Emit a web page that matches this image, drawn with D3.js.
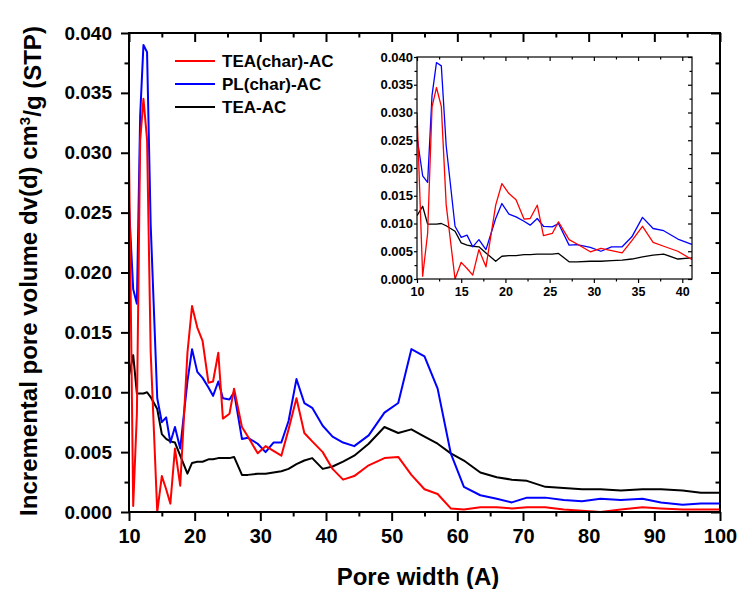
<!DOCTYPE html>
<html>
<head>
<meta charset="utf-8">
<script src="https://cdn.jsdelivr.net/npm/d3@7"></script>
<style>
  body { margin: 0; background: #fff; }
  svg text { font-family: "Liberation Sans", Arial, sans-serif; font-weight: bold; fill: #000; }
</style>
</head>
<body>
<div id="chart"></div>
<script>
// Pore width (A) and incremental pore volume
const poreWidth = [10, 10.64, 11.2, 11.7, 12.2, 12.75, 13.3, 14.3, 15, 15.66, 16.3, 17, 17.8, 18.9, 19.6, 20.4, 21.2, 22.1, 22.8, 23.6, 24.3, 25.3, 26,
    27.2, 28.1, 29.6, 30.8, 32, 33.2, 34.3, 35.5, 36.7, 37.9, 39.5, 41, 42.6, 44.3, 46.5, 48.9, 51, 53, 55, 57, 59, 61, 63.5, 66, 68.3,
    70.6, 73.4, 76.2, 79, 81.8, 84.9, 88.2, 91, 94.3, 97.1, 100];
const teaCharAC = [0.0300, 0.0005, 0.0082, 0.0310, 0.0345, 0.0311, 0.0134, 0.0000, 0.0030, 0.0019, 0.0007, 0.0053, 0.0022, 0.0133, 0.0172, 0.0154, 0.0143, 0.0108, 0.0109, 0.0133, 0.0078, 0.0082, 0.0103,
    0.0071, 0.0063, 0.0049, 0.0055, 0.0051, 0.0047, 0.0069, 0.0095, 0.0066, 0.0059, 0.0050, 0.0036, 0.0027, 0.0030, 0.0039, 0.0045, 0.0046, 0.0031, 0.0019, 0.0015, 0.0003, 0.0002, 0.0004, 0.0004, 0.0003,
    0.0004, 0.0004, 0.0002, 0.0001, 0.0000, 0.0002, 0.0004, 0.0003, 0.0002, 0.0002, 0.0002];
const plCharAC = [0.0256, 0.0186, 0.0174, 0.0331, 0.0390, 0.0384, 0.0240, 0.0095, 0.0075, 0.0079, 0.0058, 0.0071, 0.0053, 0.0109, 0.0136, 0.0117, 0.0112, 0.0104, 0.0097, 0.0109, 0.0095, 0.0094, 0.0100,
    0.0061, 0.0062, 0.0057, 0.0050, 0.0058, 0.0058, 0.0076, 0.0111, 0.0091, 0.0087, 0.0072, 0.0063, 0.0058, 0.0055, 0.0064, 0.0083, 0.0091, 0.0136, 0.0130, 0.0103, 0.0049, 0.0021, 0.0014, 0.0011, 0.0008,
    0.0012, 0.0012, 0.0010, 0.0009, 0.0011, 0.0010, 0.0011, 0.0008, 0.0006, 0.0007, 0.0007];
const teaAC = [0.0114, 0.0131, 0.0099, 0.0099, 0.0099, 0.0100, 0.0096, 0.0086, 0.0065, 0.0061, 0.0059, 0.0058, 0.0047, 0.0032, 0.0041, 0.0042, 0.0042, 0.0044, 0.0044, 0.0045, 0.0045, 0.0045, 0.0046,
    0.0031, 0.0031, 0.0032, 0.0032, 0.0033, 0.0034, 0.0036, 0.0040, 0.0043, 0.0045, 0.0036, 0.0038, 0.0042, 0.0047, 0.0057, 0.0071, 0.0066, 0.0069, 0.0063, 0.0057, 0.0049, 0.0043, 0.0033, 0.0029, 0.0027,
    0.0026, 0.0021, 0.0020, 0.0019, 0.0019, 0.0018, 0.0019, 0.0019, 0.0018, 0.0016, 0.0016];

const seriesNames = ["TEA(char)-AC", "PL(char)-AC", "TEA-AC"];
const seriesColors = ["#ff0000", "#0000ff", "#000000"];
const seriesValues = [teaCharAC, plCharAC, teaAC];

const xMainTicks = d3.range(10, 101, 10);
const xMainMinor = d3.range(15, 100, 10);
const yTicks = d3.range(0, 0.0401, 0.005);
const yMinor = d3.range(0.0025, 0.04, 0.005);
const xInsetTicks = d3.range(10, 41, 5);
const xInsetMinor = d3.range(12.5, 41, 5);

const width = 739, height = 589;
const svg = d3.select("#chart").append("svg")
    .attr("width", width)
    .attr("height", height);

const series = seriesValues.map((vals, i) => ({
    name: seriesNames[i],
    color: seriesColors[i],
    points: poreWidth.map((x, j) => ({ x: x, y: vals[j] }))
}));

// draws one framed panel (axes, ticks, lines)
function drawPanel(g, box, xDomain, opts) {
    const x = d3.scaleLinear().domain(xDomain).range([box.left, box.right]);
    const y = d3.scaleLinear().domain([0, 0.04]).range([box.bottom, box.top]);

    const clipId = "clip-" + opts.id;
    g.append("clipPath").attr("id", clipId)
        .append("rect")
        .attr("x", box.left).attr("y", box.top)
        .attr("width", box.right - box.left).attr("height", box.bottom - box.top);

    const line = d3.line().x(d => x(d.x)).y(d => y(d.y));
    g.append("g").attr("clip-path", `url(#${clipId})`)
        .selectAll("path")
        .data(series.slice().reverse())
        .enter()
        .append("path")
        .attr("d", d => line(d.points))
        .attr("fill", "none")
        .attr("stroke", d => d.color)
        .attr("stroke-width", opts.lineWidth)
        .attr("stroke-linejoin", "round");

    // bottom
    g.append("g").attr("transform", `translate(0,${box.bottom})`)
        .call(d3.axisBottom(x).tickValues(opts.xTicks).tickSize(opts.major).tickPadding(opts.xPad).tickFormat(d3.format("d")))
        .call(a => a.selectAll("text").style("font-size", opts.xFont + "px"));
    g.append("g").attr("transform", `translate(0,${box.bottom})`)
        .call(d3.axisBottom(x).tickValues(opts.xMinor).tickSize(opts.minor).tickFormat(""));
    // top (inward)
    g.append("g").attr("transform", `translate(0,${box.top})`)
        .call(d3.axisTop(x).tickValues(opts.xTicks).tickSize(-opts.major).tickFormat(""));
    g.append("g").attr("transform", `translate(0,${box.top})`)
        .call(d3.axisTop(x).tickValues(opts.xMinor).tickSize(-opts.minor).tickFormat(""));
    // left
    g.append("g").attr("transform", `translate(${box.left},0)`)
        .call(d3.axisLeft(y).tickValues(yTicks).tickSize(opts.yMajor).tickPadding(opts.yPad).tickFormat(d3.format(".3f")))
        .call(a => a.selectAll("text").style("font-size", opts.yFont + "px"));
    g.append("g").attr("transform", `translate(${box.left},0)`)
        .call(d3.axisLeft(y).tickValues(yMinor).tickSize(opts.minor).tickFormat(""));
    // right (inward)
    g.append("g").attr("transform", `translate(${box.right},0)`)
        .call(d3.axisRight(y).tickValues(yTicks).tickSize(-opts.major).tickFormat(""));
    g.append("g").attr("transform", `translate(${box.right},0)`)
        .call(d3.axisRight(y).tickValues(yMinor).tickSize(-opts.minor).tickFormat(""));

    g.selectAll(".domain").remove();
    g.selectAll(".tick line").attr("stroke", "#000").attr("stroke-width", opts.axisWidth);

    g.append("rect")
        .attr("x", box.left).attr("y", box.top)
        .attr("width", box.right - box.left).attr("height", box.bottom - box.top)
        .attr("fill", "none")
        .attr("stroke", "#000")
        .attr("stroke-width", opts.axisWidth);
    return { x, y };
}

// main plot
const mainBox = { left: 129, right: 720, top: 33, bottom: 512 };
drawPanel(svg.append("g"), mainBox, [10, 100], {
    id: "main", xTicks: xMainTicks, xMinor: xMainMinor,
    major: 9, yMajor: 8, minor: 4.5, xPad: 8, yPad: 9, xFont: 20, yFont: 19,
    lineWidth: 2, axisWidth: 2
});

// inset
const insetBox = { left: 417, right: 692, top: 57, bottom: 279 };
const insetG = svg.append("g");
insetG.append("rect")
    .attr("x", insetBox.left).attr("y", insetBox.top)
    .attr("width", insetBox.right - insetBox.left).attr("height", insetBox.bottom - insetBox.top)
    .attr("fill", "#fff");
drawPanel(insetG, insetBox, [10, 41.1], {
    id: "inset", xTicks: xInsetTicks, xMinor: xInsetMinor,
    major: 4, yMajor: 3, minor: 2.5, xPad: 4, yPad: 1, xFont: 12.5, yFont: 13,
    lineWidth: 1.3, axisWidth: 1.2
});

// legend
const legend = svg.append("g");
series.forEach((s, i) => {
    const ly = 61 + i * 23;
    legend.append("line")
        .attr("x1", 175).attr("x2", 215)
        .attr("y1", ly).attr("y2", ly)
        .attr("stroke", s.color)
        .attr("stroke-width", 2);
    legend.append("text")
        .attr("x", 222).attr("y", ly)
        .attr("dy", "0.35em")
        .style("font-size", "17px")
        .text(s.name);
});

// axis titles
svg.append("text")
    .attr("x", 418).attr("y", 585)
    .attr("text-anchor", "middle")
    .style("font-size", "24px")
    .text("Pore width (A)");

const yTitle = svg.append("text")
    .attr("transform", "translate(37,271) rotate(-90)")
    .attr("text-anchor", "middle")
    .style("font-size", "24px");
yTitle.append("tspan").text("Incremental pore volume dv(d) cm");
yTitle.append("tspan").attr("dy", "-0.45em").style("font-size", "15px").text("3");
yTitle.append("tspan").attr("dy", "0.45em").text("/g (STP)");
</script>
</body>
</html>
